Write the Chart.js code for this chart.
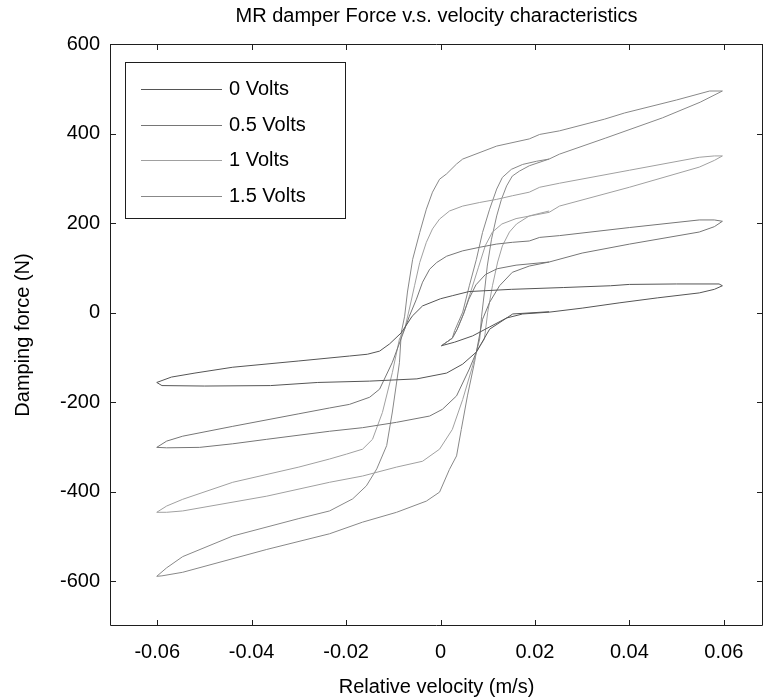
<!DOCTYPE html>
<html>
<head>
<meta charset="utf-8">
<script src="https://cdn.jsdelivr.net/npm/chart.js@4.4.0/dist/chart.umd.min.js"></script>
<style>
html, body { margin: 0; padding: 0; background: #fff; }
#wrap { width: 765px; height: 700px; }
</style>
</head>
<body>
<div id="wrap"><canvas id="myChart" width="765" height="700"></canvas></div>
<script>
// velocity (m/s), force (N) pairs, in time order:
// start transient, lower branch to +tip, upper branch back to -tip, lower branch again
const loop0V = [
  [0.0002,-74],[0.003,-66],[0.0068,-52],[0.0104,-32],[0.014,-12],[0.0174,-3],[0.023,1],
  [0.03,10],[0.038,22],[0.046,33],[0.0548,44],[0.058,52],[0.0597,60],
  [0.059,64],[0.05,64],[0.04,63],[0.036,60],[0.026,56],[0.015,52],[0.006,47],[0.0026,38],[0.0,31],
  [-0.0038,15],[-0.006,-8],[-0.0083,-45],[-0.0108,-70],[-0.0129,-86],[-0.0155,-93],[-0.0193,-97],
  [-0.03,-108],[-0.044,-122],[-0.052,-135],[-0.057,-144],[-0.0601,-156],
  [-0.059,-163],[-0.05,-164],[-0.036,-163],[-0.026,-156],[-0.015,-153],[-0.005,-148],
  [0.0013,-135],[0.0047,-115],[0.0076,-88],[0.0104,-37],[0.0153,-3],[0.023,2]
];
const loop05V = [
  [0.0002,-74],[0.0025,-57],[0.0035,-38],[0.0048,-5],[0.006,30],[0.0075,62],[0.0095,85],[0.012,98],[0.016,106],[0.023,113],
  [0.03,133],[0.04,153],[0.0548,180],[0.058,192],[0.0597,204],
  [0.058,207],[0.0548,207],[0.04,190],[0.0252,172],[0.021,168],[0.0188,160],[0.0152,157],[0.0118,153],
  [0.0083,146],[0.0047,138],[0.0013,126],[-0.0008,112],[-0.0023,97],[-0.0038,68],[-0.0051,30],[-0.0066,-8],
  [-0.0076,-37],[-0.0102,-111],[-0.0129,-171],[-0.015,-189],[-0.0193,-205],[-0.0235,-213],[-0.03,-226],
  [-0.044,-254],[-0.0546,-276],[-0.058,-287],[-0.0601,-301],
  [-0.058,-302],[-0.051,-301],[-0.044,-293],[-0.0368,-283],[-0.0235,-265],[-0.0165,-257],[-0.0093,-245],
  [-0.0023,-231],[0.0004,-216],[0.0034,-186],[0.0061,-126],[0.0076,-88],[0.0089,-15],[0.0104,23],
  [0.0125,60],[0.0152,90],[0.0188,104],[0.023,113]
];
const loop1V = [
  [0.0002,-74],[0.0025,-57],[0.0035,-38],[0.005,0],[0.0065,50],[0.008,100],[0.0095,150],[0.011,180],
  [0.013,198],[0.016,210],[0.02,218],[0.023,224],
  [0.0252,238],[0.04,280],[0.0548,325],[0.058,340],[0.0597,350],
  [0.058,350],[0.0548,347],[0.04,318],[0.0252,289],[0.021,280],[0.0188,269],[0.0152,261],[0.0119,253],
  [0.0083,246],[0.0047,238],[0.0019,227],[-0.0002,209],[-0.0017,187],[-0.003,157],[-0.0044,112],
  [-0.0055,60],[-0.0066,8],[-0.0076,-37],[-0.0087,-59],[-0.0102,-134],[-0.0123,-223],[-0.0144,-283],
  [-0.0165,-305],[-0.0199,-316],[-0.0235,-327],[-0.03,-345],[-0.044,-379],[-0.0546,-417],[-0.058,-432],[-0.0601,-446],
  [-0.058,-446],[-0.0546,-443],[-0.0368,-410],[-0.0235,-379],[-0.0165,-365],[-0.0093,-345],[-0.0038,-332],
  [-0.0002,-305],[0.0025,-261],[0.0047,-194],[0.0068,-119],[0.0076,-88],[0.0093,-59],[0.01,1],[0.011,60],
  [0.0121,113],[0.0131,149],[0.0146,180],[0.0161,198],[0.0188,216],[0.023,227]
];
const loop15V = [
  [0.0002,-74],[0.0025,-57],[0.003,-40],[0.0047,1],[0.0061,60],[0.0076,119],[0.0089,179],[0.0104,231],
  [0.0119,276],[0.0131,302],[0.015,320],[0.0174,331],[0.0203,338],[0.023,343],
  [0.0252,354],[0.035,390],[0.047,435],[0.055,470],[0.0597,495],
  [0.057,495],[0.05,475],[0.039,446],[0.0347,432],[0.0252,406],[0.021,398],[0.0188,388],[0.0119,372],
  [0.0047,343],[0.0034,332],[0.0013,310],[-0.0002,298],[-0.0017,269],[-0.003,231],[-0.0044,179],
  [-0.0059,119],[-0.007,46],[-0.0076,-8],[-0.0083,-44],[-0.0087,-112],[-0.0102,-222],[-0.0114,-297],
  [-0.0135,-349],[-0.0157,-387],[-0.0186,-416],[-0.0235,-443],[-0.03,-460],[-0.044,-499],[-0.0546,-545],
  [-0.058,-570],[-0.0601,-589],
  [-0.059,-588],[-0.0546,-580],[-0.0368,-529],[-0.0235,-494],[-0.0165,-468],[-0.0093,-446],[-0.003,-421],
  [-0.0002,-401],[0.0019,-350],[0.0034,-320],[0.0044,-261],[0.0057,-186],[0.0072,-111],[0.0076,-88],
  [0.0083,-59],[0.0087,-8],[0.0093,46],[0.0099,104],[0.0108,164],[0.0119,216],[0.0129,253],[0.014,283],
  [0.0152,305],[0.0167,316],[0.0188,328],[0.023,343]
];

const seriesNames = ['0 Volts', '0.5 Volts', '1 Volts', '1.5 Volts'];
const seriesData = [loop0V, loop05V, loop1V, loop15V];
const seriesColors = ['#555555', '#767676', '#a0a0a0', '#888888'];

const xTicks = [-0.06, -0.04, -0.02, 0, 0.02, 0.04, 0.06];
const yTicks = [-600, -400, -200, 0, 200, 400, 600];

const chartTitle = 'MR damper Force v.s. velocity characteristics';
const fontFamily = '"Liberation Sans", Arial, Helvetica, sans-serif';

// box round the plot with inward tick marks on all four sides
const frameTicks = {
  id: 'frameTicks',
  afterDatasetsDraw(chart) {
    const {ctx, chartArea: a, scales: {x, y}} = chart;
    ctx.save();
    ctx.strokeStyle = '#1e1e1e';
    ctx.lineWidth = 1;
    ctx.beginPath();
    ctx.rect(a.left + 0.5, a.top + 0.5, a.right - a.left - 1, a.bottom - a.top - 1);
    xTicks.forEach(v => {
      const px = Math.round(x.getPixelForValue(v)) + 0.5;
      ctx.moveTo(px, a.bottom); ctx.lineTo(px, a.bottom - 6);
      ctx.moveTo(px, a.top); ctx.lineTo(px, a.top + 6);
    });
    yTicks.forEach(v => {
      const py = Math.round(y.getPixelForValue(v)) + 0.5;
      ctx.moveTo(a.left, py); ctx.lineTo(a.left + 6, py);
      ctx.moveTo(a.right, py); ctx.lineTo(a.right - 6, py);
    });
    ctx.stroke();
    // title centred over the axes, like matlab does it
    ctx.fillStyle = '#000';
    ctx.font = '20px ' + fontFamily;
    ctx.textAlign = 'center';
    ctx.textBaseline = 'middle';
    ctx.fillText(chartTitle, (a.left + a.right) / 2, 16);
    ctx.restore();
  }
};

// matlab style legend box in the upper left corner
const boxLegend = {
  id: 'boxLegend',
  afterDraw(chart) {
    const {ctx, chartArea: a} = chart;
    const left = a.left + 15, top = a.top + 18, w = 220, h = 156;
    ctx.save();
    ctx.fillStyle = '#fff';
    ctx.fillRect(left, top, w, h);
    ctx.strokeStyle = '#1e1e1e';
    ctx.lineWidth = 1;
    ctx.strokeRect(left + 0.5, top + 0.5, w, h);
    ctx.font = '20px ' + fontFamily;
    ctx.textBaseline = 'middle';
    chart.data.datasets.forEach((ds, i) => {
      const yy = Math.round(top + 27 + i * 35.7) + 0.5;
      ctx.strokeStyle = ds.borderColor;
      ctx.beginPath();
      ctx.moveTo(left + 16, yy);
      ctx.lineTo(left + 97, yy);
      ctx.stroke();
      ctx.fillStyle = '#000';
      ctx.fillText(ds.label, left + 104, yy);
    });
    ctx.restore();
  }
};

new Chart('myChart', {
  type: 'scatter',
  data: {
    datasets: seriesData.map((pts, i) => ({
      label: seriesNames[i],
      data: pts.map(p => ({x: p[0], y: p[1]})),
      showLine: true,
      borderColor: seriesColors[i],
      borderWidth: 1,
      pointRadius: 0,
      tension: 0
    }))
  },
  options: {
    responsive: false,
    animation: false,
    devicePixelRatio: 1,
    layout: {padding: {left: 0, right: 2, top: 44, bottom: 0}},
    plugins: {
      legend: {display: false},
      tooltip: {enabled: false},
      title: {display: false}
    },
    scales: {
      x: {
        type: 'linear',
        min: -0.07,
        max: 0.0683,
        afterBuildTicks: scale => { scale.ticks = xTicks.map(v => ({value: v})); },
        afterFit: scale => { scale.height = 74; },
        grid: {display: false, drawTicks: false},
        border: {display: false},
        ticks: {
          color: '#000',
          padding: 14,
          font: {family: fontFamily, size: 20},
          callback: v => (v === 0 ? '0' : v.toFixed(2))
        },
        title: {
          display: true,
          text: 'Relative velocity (m/s)',
          color: '#000',
          font: {family: fontFamily, size: 20},
          padding: {top: 0, bottom: 1}
        }
      },
      y: {
        type: 'linear',
        min: -700,
        max: 600,
        afterBuildTicks: scale => { scale.ticks = yTicks.map(v => ({value: v})); },
        afterFit: scale => { scale.width = 110; },
        grid: {display: false, drawTicks: false},
        border: {display: false},
        ticks: {
          color: '#000',
          padding: 10,
          font: {family: fontFamily, size: 20},
          callback: v => String(v)
        },
        title: {
          display: true,
          text: 'Damping force (N)',
          color: '#000',
          font: {family: fontFamily, size: 20},
          padding: {top: 11, bottom: 0}
        }
      }
    }
  },
  plugins: [frameTicks, boxLegend]
});
</script>
</body>
</html>
